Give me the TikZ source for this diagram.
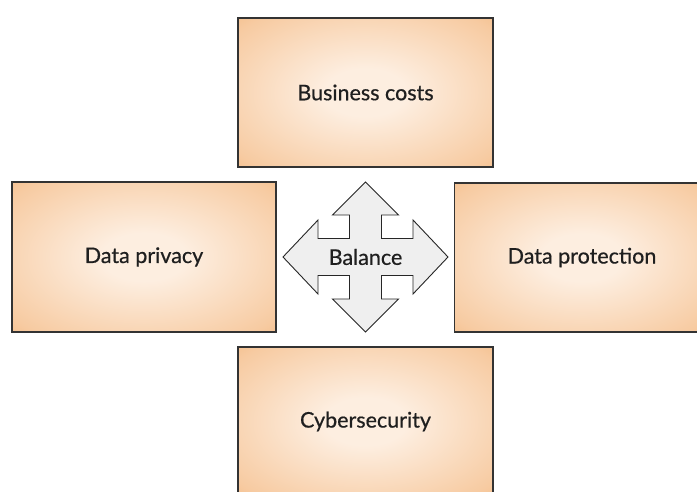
\documentclass[tikz,border=0pt]{standalone}
\usepackage{fontspec}
\setmainfont{Lato}
\newfontfamily\labelfont{Lato}[FakeBold=0.6]
\definecolor{glowin}{HTML}{FDEEE0}
\definecolor{glowmid}{HTML}{F7CBA2}
\definecolor{glowout}{HTML}{F0A964}
\definecolor{glowedge}{HTML}{EC9C52}
\definecolor{crossfill}{HTML}{EFEFEF}
\pgfdeclareradialshading{boxglow}{\pgfpoint{0bp}{0bp}}{%
  color(0bp)=(glowin); color(8bp)=(glowin); color(32bp)=(glowmid);
  color(48bp)=(glowout); color(72bp)=(glowedge)}
\tikzset{
  labeltext/.style={font=\labelfont\fontsize{21.5}{24}\selectfont, text=black!88},
  topic/.style={rectangle, draw=black!80, line width=1.1pt, shading=boxglow,
    labeltext, inner sep=0pt},
  wide/.style={topic, minimum width=255pt, minimum height=149pt},
  wider/.style={topic, minimum width=264pt, minimum height=150pt},
  crossarrow/.style={draw=black!85, line width=0.9pt, fill=crossfill, line join=miter},
}
\begin{document}
\begin{tikzpicture}[x=1pt, y=-1pt]
\useasboundingbox (0,0) rectangle (697,492);
\clip (0,0) rectangle (697,492);
\fill[white] (0,0) rectangle (697,492);

\node[wide]  (costs)      at (365.5,92.5) {Business costs};
\node[wider] (privacy)    at (144,257)    {Data privacy};
\node[wide]  (protection) at (582,257.5)  {Data protection};
\node[wide]  (cyber)      at (365.5,421.5) {Cybersecurity};

% four-way balance arrow
\draw[crossarrow]
  (365.5,182) -- (398.5,215) -- (381.5,215) -- (381.5,238.5) -- (413,238.5)
  -- (413,220) -- (448,257) -- (413,294) -- (413,275.5) -- (381.5,275.5)
  -- (381.5,299) -- (398.5,299) -- (365.5,332) -- (332.5,299) -- (349.5,299)
  -- (349.5,275.5) -- (318,275.5) -- (318,294) -- (283,257) -- (318,220)
  -- (318,238.5) -- (349.5,238.5) -- (349.5,215) -- (332.5,215) -- cycle;
\node[labeltext] (balance) at (365.5,257) {Balance};
\end{tikzpicture}
\end{document}
